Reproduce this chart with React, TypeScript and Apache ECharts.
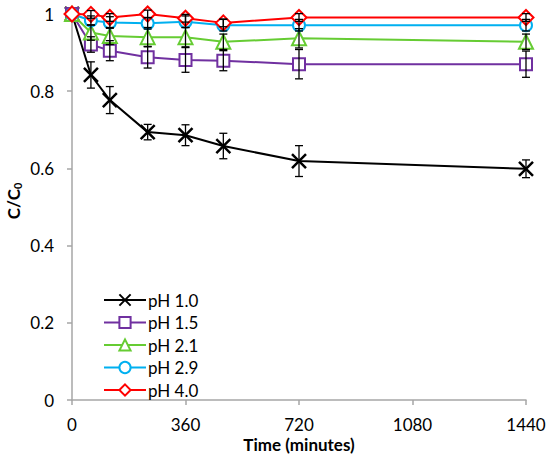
import React, { useEffect, useRef } from "react";
import * as echarts from "echarts";

const times = [0, 60, 120, 240, 360, 480, 720, 1440];
const seriesNames = ["pH 1.0", "pH 1.5", "pH 2.1", "pH 2.9", "pH 4.0"];
const ph10 = [1.0, 0.842, 0.777, 0.694, 0.686, 0.658, 0.619, 0.599];
const ph15 = [1.0, 0.921, 0.905, 0.888, 0.881, 0.879, 0.87, 0.87];
const ph21 = [1.0, 0.952, 0.943, 0.94, 0.94, 0.928, 0.937, 0.928];
const ph29 = [1.0, 0.983, 0.978, 0.976, 0.98, 0.971, 0.971, 0.971];
const ph40 = [1.0, 0.999, 0.991, 1.0, 0.989, 0.977, 0.991, 0.991];
const err10 = [0, 0.034, 0.035, 0.02, 0.027, 0.033, 0.04, 0.023];
const err15 = [0, 0.02, 0.026, 0.028, 0.032, 0.026, 0.038, 0.034];
const err21 = [0, 0.02, 0.022, 0.025, 0.025, 0.02, 0.025, 0.02];
const err29 = [0, 0.012, 0.015, 0.015, 0.015, 0.015, 0.015, 0.015];
const err40 = [0, 0.01, 0.01, 0.01, 0.01, 0.01, 0.01, 0.01];
const yTicks = [0, 0.2, 0.4, 0.6, 0.8, 1];

const values = [ph10, ph15, ph21, ph29, ph40];
const errors = [err10, err15, err21, err29, err40];
const colors = ["#000000", "#7030a0", "#66cc33", "#00b0f0", "#ff0000"];
const symbols = [
  "path://M0,0L10,10M10,0L0,10",
  "rect",
  "triangle",
  "circle",
  "diamond",
];
const sizes = [14, 12, 14, 12, 15];
const FONT = "Lato, 'Open Sans', sans-serif";

export default function App() {
  const ref = useRef<HTMLDivElement>(null);
  useEffect(() => {
    if (!ref.current) return;
    const chart = echarts.init(ref.current, undefined, { renderer: "svg" });
    const lineSeries = values.map((vals, i) => ({
      name: seriesNames[i],
      type: "line",
      data: times.map((t, j) => [t, vals[j]]),
      symbol: symbols[i],
      symbolSize: sizes[i],
      showAllSymbol: true,
      z: 2 + i,
      lineStyle: { color: colors[i], width: 2 },
      itemStyle: {
        color: i === 0 ? colors[i] : "#ffffff",
        borderColor: colors[i],
        borderWidth: i === 0 ? 2.5 : 2,
      },
      emphasis: { disabled: true },
    }));
    const errSeries = values.map((vals, i) => ({
      name: seriesNames[i] + " err",
      type: "custom",
      z: 10,
      silent: true,
      data: times.map((t, j) => [t, vals[j] - errors[i][j], vals[j] + errors[i][j]]),
      renderItem: (params: any, api: any) => {
        const x = api.value(0);
        const lo = api.coord([x, api.value(1)]);
        const hi = api.coord([x, api.value(2)]);
        if (Math.abs(hi[1] - lo[1]) < 0.5) return { type: "group", children: [] };
        const w = 4;
        const st = { stroke: "#000", lineWidth: 1.3 };
        return {
          type: "group",
          children: [
            { type: "line", shape: { x1: lo[0], y1: lo[1], x2: hi[0], y2: hi[1] }, style: st },
            { type: "line", shape: { x1: lo[0] - w, y1: lo[1], x2: lo[0] + w, y2: lo[1] }, style: st },
            { type: "line", shape: { x1: hi[0] - w, y1: hi[1], x2: hi[0] + w, y2: hi[1] }, style: st },
          ],
        };
      },
    }));
    chart.setOption({
      animation: false,
      grid: { left: 72, right: 24, top: 14, bottom: 57, containLabel: false, outerBoundsMode: "none" },
      legend: {
        data: seriesNames,
        orient: "vertical",
        left: 103,
        top: 291,
        padding: 0,
        itemWidth: 42,
        itemHeight: 14,
        itemGap: 4.5,
        textStyle: { fontFamily: FONT, fontSize: 17, lineHeight: 18, color: "#000", padding: [0, 0, 0, -3] },
      },
      xAxis: {
        type: "value",
        min: 0,
        max: 1440,
        interval: 360,
        splitLine: { show: false },
        axisLine: { lineStyle: { color: "#a6a6a6", width: 1.5 } },
        axisTick: { show: true, length: 5, lineStyle: { color: "#a6a6a6", width: 1.5 } },
        axisLabel: {
          fontFamily: FONT,
          fontSize: 17,
          lineHeight: 17,
          color: "#000",
          margin: 16,
          formatter: (v: number) => String(v),
        },
        name: "Time (minutes)",
        nameLocation: "middle",
        nameGap: 36,
        nameMoveOverlap: false,
        nameTextStyle: { fontFamily: FONT, fontSize: 17, lineHeight: 17, fontWeight: "bold", color: "#000" },
      },
      yAxis: {
        type: "value",
        min: 0,
        max: 1,
        interval: 0.2,
        splitLine: { show: false },
        axisLine: { show: true, lineStyle: { color: "#a6a6a6", width: 1.5 } },
        axisTick: { show: true, length: 5, lineStyle: { color: "#a6a6a6", width: 1.5 } },
        axisLabel: {
          fontFamily: FONT,
          fontSize: 17,
          color: "#000",
          margin: 18,
          formatter: (v: number) => {
            const hit = yTicks.find((t) => Math.abs(t - v) < 1e-9);
            return hit === undefined ? "" : String(parseFloat(hit.toFixed(1)));
          },
        },
        name: "{a|C/C}{s|0}",
        nameLocation: "middle",
        nameGap: 49,
        nameMoveOverlap: false,
        nameTextStyle: {
          padding: [0, 0, 0, 12],
          rich: {
            a: { fontFamily: FONT, fontSize: 17, fontWeight: "bold", color: "#000" },
            s: { fontFamily: FONT, fontSize: 11, fontWeight: "bold", color: "#000", verticalAlign: "bottom", padding: [8, 0, 0, 0] },
          },
        },
      },
      series: [...lineSeries, ...errSeries],
    });
    return () => chart.dispose();
  }, []);
  return <div ref={ref} style={{ width: 550, height: 457, position: "absolute", left: 0, top: 0 }} />;
}
